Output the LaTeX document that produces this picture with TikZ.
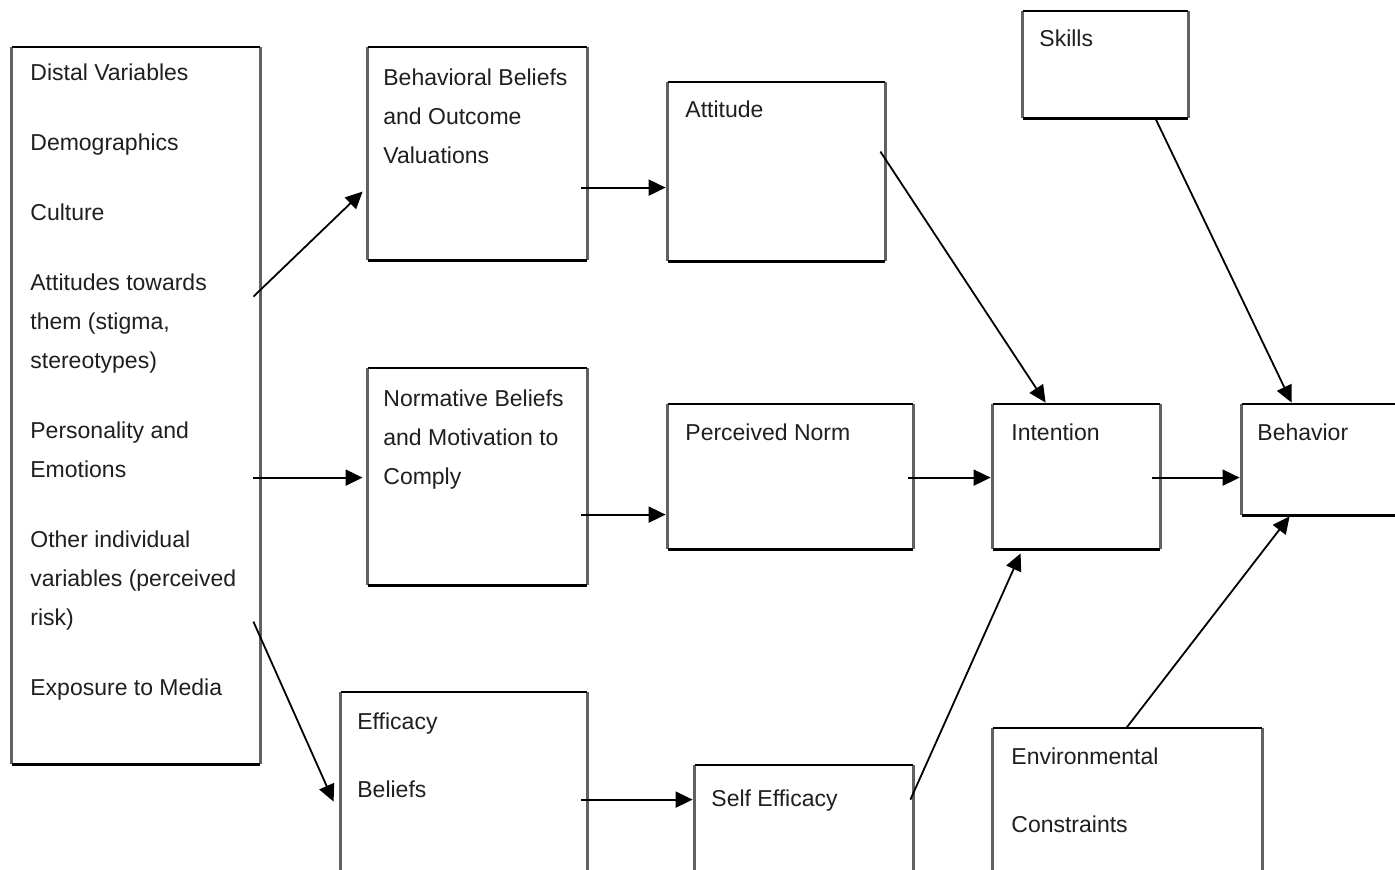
\documentclass[tikz,border=0pt]{standalone}
\usepackage{fontspec}
\setmainfont{Liberation Sans}
\usetikzlibrary{calc,fit,arrows.meta}
\tikzset{
  boxnode/.style={rectangle, draw=none, inner sep=0pt},
  hedge/.style={draw=black, line width=1.1pt},
  vedge/.style={draw=black!62, line width=1.4pt},
  txt/.style={anchor=base west, inner sep=0pt, align=left, text=black!88,
    font=\fontsize{11.5}{19.5}\selectfont},
  conn/.style={draw=black, line width=0.9pt, -{Triangle[length=8.5pt,width=8pt]}}
}
\newcommand\boxedges[1]{%
  \draw[vedge] (#1.north west) -- (#1.south west) (#1.north east) -- (#1.south east);
  \draw[hedge] (#1.north west) -- (#1.north east) (#1.south west) -- (#1.south east);}
\begin{document}
\begin{tikzpicture}[x=0.5pt,y=-0.5pt]
\useasboundingbox (0,0) rectangle (1395,869);
\clip (0,0) rectangle (1395,869);
\fill[white] (0,0) rectangle (1395,869);
% boxes
\node[boxnode, fit={(12,47) (260,764)}] (dist) {};
\node[boxnode, fit={(368,47) (587,260)}] (bb) {};
\node[boxnode, fit={(668,82) (885,261)}] (att) {};
\node[boxnode, fit={(1023,11) (1188,118)}] (skills) {};
\node[boxnode, fit={(368,368) (587,585)}] (nb) {};
\node[boxnode, fit={(668,404) (913,549)}] (pn) {};
\node[boxnode, fit={(993,404) (1160,549)}] (int) {};
\node[boxnode, fit={(1242,404) (1402,515)}] (beh) {};
\node[boxnode, fit={(341,692) (587,885)}] (eb) {};
\node[boxnode, fit={(695,765) (913,885)}] (se) {};
\node[boxnode, fit={(993,728) (1262,885)}] (env) {};
\foreach \n in {dist,bb,att,skills,nb,pn,int,beh,eb,se,env}{\boxedges{\n}}
% texts (anchored at the baseline of their last line)
\node[txt] (distT) at (30,695) {Distal Variables\\[15.5pt]
  Demographics\\[15.5pt]
  Culture\\[15.5pt]
  Attitudes towards\\them (stigma,\\stereotypes)\\[15.5pt]
  Personality and\\Emotions\\[15.5pt]
  Other individual\\variables (perceived\\risk)\\[15.5pt]
  Exposure to Media};
\node[txt] (bbT) at (383,163) {Behavioral Beliefs\\and Outcome\\Valuations};
\node[txt] (attT) at (685,117) {Attitude};
\node[txt] (skillsT) at (1039,46) {Skills};
\node[txt] (nbT) at (383,484) {Normative Beliefs\\and Motivation to\\Comply};
\node[txt] (pnT) at (685,440) {Perceived Norm};
\node[txt] (intT) at (1011,440) {Intention};
\node[txt] (behT) at (1257,440) {Behavior};
\node[txt] (ebT) at (357,797) {Efficacy\\[14.5pt]Beliefs};
\node[txt] (seT) at (711,806) {Self Efficacy};
\node[txt] (envT) at (1011,832) {Environmental\\[14.5pt]Constraints};
% connectors
\draw[conn] ($(dist.north east)+(-7,250)$) -- ($(bb.north west)+(-5,145)$);
\draw[conn] ($(dist.north east)+(-7,431)$) -- ($(nb.north west)+(-5,110)$);
\draw[conn] ($(dist.north east)+(-7,575)$) -- ($(eb.north west)+(-7,110)$);
\draw[conn] ($(bb.north east)+(-6,141)$) -- ($(att.north west)+(-2,106)$);
\draw[conn] ($(nb.north east)+(-6,147)$) -- ($(pn.north west)+(-2,111)$);
\draw[conn] ($(eb.north east)+(-6,108)$) -- ($(se.north west)+(-2,35)$);
\draw[conn] ($(att.north east)+(-5,70)$) -- ($(int.north west)+(53,-1)$);
\draw[conn] ($(pn.north east)+(-5,74)$) -- ($(int.north west)+(-2,74)$);
\draw[conn] ($(se.north east)+(-3,35)$) -- ($(int.south west)+(28,4)$);
\draw[conn] ($(int.north east)+(-8,74)$) -- ($(beh.north west)+(-2,74)$);
\draw[conn] ($(skills.south east)+(-33,0)$) -- ($(beh.north west)+(50,-1)$);
\draw[conn] ($(env.north west)+(134,0)$) -- ($(beh.south west)+(48,1)$);
\end{tikzpicture}
\end{document}
